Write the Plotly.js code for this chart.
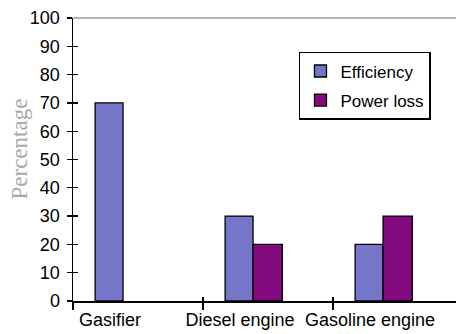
<!DOCTYPE html>
<html>
<head>
<meta charset="utf-8">
<script src="https://cdn.plot.ly/plotly-3.0.1.min.js"></script>
<style>html,body{margin:0;padding:0;background:#fff}#chart{width:456px;height:334px}</style>
</head>
<body>
<div id="chart"></div>
<script>
const categories = ['Gasifier', 'Diesel engine', 'Gasoline engine'];
const efficiency = [70, 30, 20];
const powerLoss = [null, 20, 30];
const seriesNames = ['Efficiency', 'Power loss'];
const yTitle = 'Percentage';

const FONT = '"Liberation Sans", Arial, sans-serif';

const traces = [
  {
    type: 'bar', x: categories, y: efficiency, name: seriesNames[0],
    offset: -0.33, width: 0.215, legendgroup: 'a',
    marker: {color: '#7676c8', line: {color: '#000', width: 1.3}}
  },
  {
    type: 'bar', x: categories, y: powerLoss, name: seriesNames[1],
    offset: -0.115, width: 0.225, legendgroup: 'b',
    marker: {color: '#820a7e', line: {color: '#000', width: 1.3}}
  }
];

const layout = {
  width: 456, height: 334,
  margin: {l: 73, r: 0, t: 18, b: 33},
  paper_bgcolor: '#fff', plot_bgcolor: '#fff',
  font: {family: FONT, size: 18, color: '#000'},
  showlegend: true,
  barmode: 'group',
  xaxis: {
    type: 'category', range: [-0.5, 2.446],
    showline: true, linecolor: '#000', linewidth: 1.5,
    tickson: 'boundaries', ticks: 'outside', ticklen: 7, tickwidth: 1.3, tickcolor: '#000',
    showgrid: false, zeroline: false, tickangle: 0, automargin: false,
    ticklabelshift: -28, ticklabelstandoff: 2,
    tickfont: {family: FONT, size: 18, color: '#000'}
  },
  xaxis2: {
    overlaying: 'x', anchor: 'y', type: 'linear', range: [-0.5, 2.446],
    tick0: -0.5, dtick: 1, ticks: 'inside', ticklen: 4, tickwidth: 1.3, tickcolor: '#000',
    showticklabels: false, showline: false, showgrid: false, zeroline: false
  },
  yaxis: {
    range: [0, 100], dtick: 10,
    showline: true, linecolor: '#000', linewidth: 1.5,
    ticks: 'outside', ticklen: 5, tickwidth: 1.3, tickcolor: '#000',
    showgrid: false, zeroline: false, ticklabelstandoff: 3,
    tickfont: {family: FONT, size: 18, color: '#000'}
  },
  yaxis2: {
    overlaying: 'y', anchor: 'x', range: [0, 100], dtick: 10,
    ticks: 'inside', ticklen: 5, tickwidth: 1.3, tickcolor: '#000',
    showticklabels: false, showline: false, showgrid: false, zeroline: false
  },
  shapes: [{
    type: 'line', xref: 'paper', yref: 'paper', x0: 0, x1: 1, y0: 1, y1: 1,
    line: {color: '#9a9a9a', width: 1.5}
  }],
  annotations: [{
    text: yTitle, xref: 'paper', yref: 'paper', x: 0, y: 0.5,
    xanchor: 'center', yanchor: 'middle',
    xshift: -54, yshift: 10, textangle: -90, showarrow: false,
    font: {family: '"Liberation Serif", "Times New Roman", serif', size: 23, color: '#a8a8a8'}
  }],
  legend: {
    x: 0.59, y: 0.88, xanchor: 'left', yanchor: 'top',
    bgcolor: '#fff', bordercolor: '#000', borderwidth: 1.5,
    traceorder: 'grouped', tracegroupgap: 4,
    font: {family: FONT, size: 17, color: '#000'}
  }
};

// helper trace to activate overlay axes for cross ticks
traces.push({type: 'scatter', x: [], y: [], xaxis: 'x2', yaxis: 'y2', showlegend: false, hoverinfo: 'skip'});

Plotly.newPlot('chart', traces, layout, {staticPlot: true, displayModeBar: false});
</script>
</body>
</html>
